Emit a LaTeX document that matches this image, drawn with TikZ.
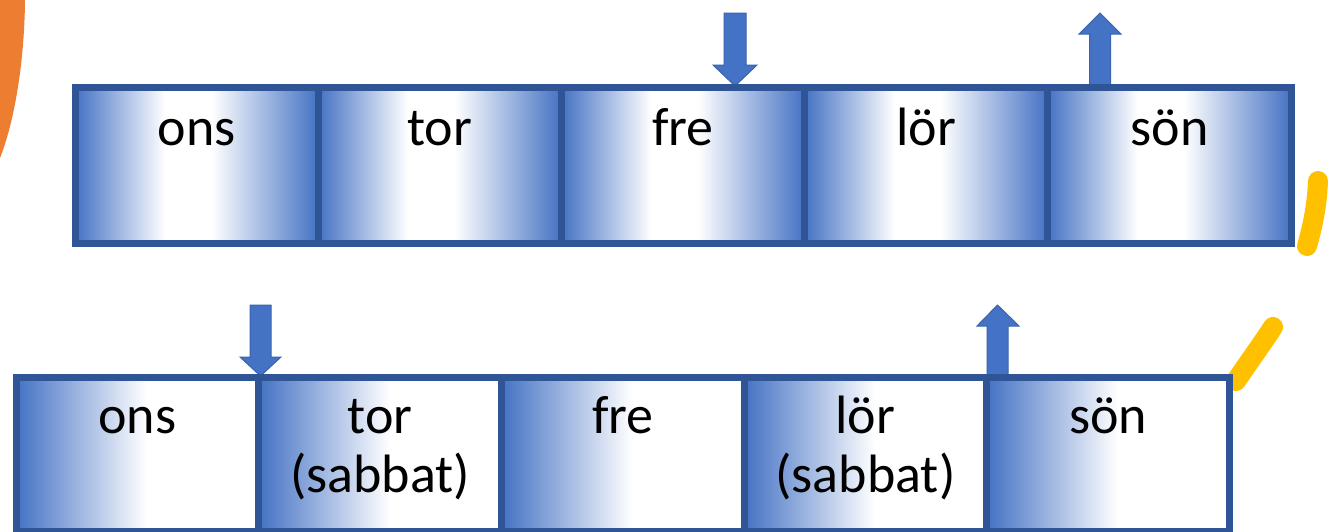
\documentclass[tikz,border=0pt]{standalone}
\usepackage{fontspec}
\setmainfont{Carlito}
\definecolor{gb}{HTML}{4472C4}
\definecolor{bd}{HTML}{2F5597}
\definecolor{ad}{HTML}{3A64AE}
\definecolor{orng}{HTML}{ED7D31}
\definecolor{ylw}{HTML}{FFC000}
\pgfdeclarehorizontalshading{topgrad}{100bp}{color(0bp)=(gb); color(25bp)=(gb); color(43.5bp)=(white); color(53bp)=(white); color(75bp)=(gb); color(100bp)=(gb)}
\pgfdeclarehorizontalshading{botgrad}{100bp}{color(0bp)=(gb); color(25bp)=(gb); color(52bp)=(white); color(100bp)=(white)}
\begin{document}
\begin{tikzpicture}[x=1pt,y=-1pt,
  topbox/.style={draw=bd, line width=7pt, shade, shading=topgrad, minimum width=243.2pt, minimum height=156pt, inner sep=0pt},
  botbox/.style={draw=bd, line width=7pt, shade, shading=botgrad, minimum width=242.7pt, minimum height=153.5pt, inner sep=0pt},
  lbl/.style={font=\fontsize{54}{59}\selectfont, inner sep=0pt, anchor=base, align=center, text=black},
  blockarrow/.style={fill=gb, draw=ad, line width=1pt, line join=miter},
  hl/.style={draw=ylw, line width=20pt, line cap=round}]
\useasboundingbox (0,0) rectangle (1336,531);
% decorations
\fill[orng] (-5,-5) -- (26,-5) -- (25,0) .. controls (24.5,60) and (15,120) .. (0,158) -- (-5,158) -- cycle;
\draw[hl] (1318,181) .. controls (1317,205) and (1313,225) .. (1307,246);
\draw[hl] (1273,327) .. controls (1262,344) and (1248,363) .. (1236,381);
% arrows
\draw[blockarrow] (724,13) -- (746,13) -- (746,65) -- (757,65) -- (735,86) -- (713,65) -- (724,65) -- cycle;
\draw[blockarrow] (1100,13) -- (1121,34) -- (1110.5,34) -- (1110.5,86) -- (1089.5,86) -- (1089.5,34) -- (1079,34) -- cycle;
\draw[blockarrow] (250,305) -- (271,305) -- (271,357) -- (281,357) -- (260.5,376) -- (240,357) -- (250,357) -- cycle;
\draw[blockarrow] (997.5,305) -- (1019,326) -- (1008,326) -- (1008,376) -- (987,376) -- (987,326) -- (977,326) -- cycle;
% top row
\node[topbox] (t1) at (196.6,165.5) {};
\node[topbox] (t2) at (439.8,165.5) {};
\node[topbox] (t3) at (683.0,165.5) {};
\node[topbox] (t4) at (926.2,165.5) {};
\node[topbox] (t5) at (1169.4,165.5) {};
\node[lbl] (lt1) at (196.6,145) {ons};
\node[lbl] (lt2) at (439.8,145) {tor};
\node[lbl] (lt3) at (683.0,145) {fre};
\node[lbl] (lt4) at (926.2,145) {lör};
\node[lbl] (lt5) at (1169.4,145) {sön};
% bottom row
\node[botbox] (b1) at (137.35,454.25) {};
\node[botbox] (b2) at (380.05,454.25) {};
\node[botbox] (b3) at (622.75,454.25) {};
\node[botbox] (b4) at (865.45,454.25) {};
\node[botbox] (b5) at (1108.15,454.25) {};
\node[lbl] (lb1) at (137.35,433) {ons};
\node[lbl] (lb2) at (380.05,492) {tor\\(sabbat)};
\node[lbl] (lb3) at (622.75,433) {fre};
\node[lbl] (lb4) at (865.45,492) {lör\\(sabbat)};
\node[lbl] (lb5) at (1108.15,433) {sön};
\end{tikzpicture}
\end{document}
